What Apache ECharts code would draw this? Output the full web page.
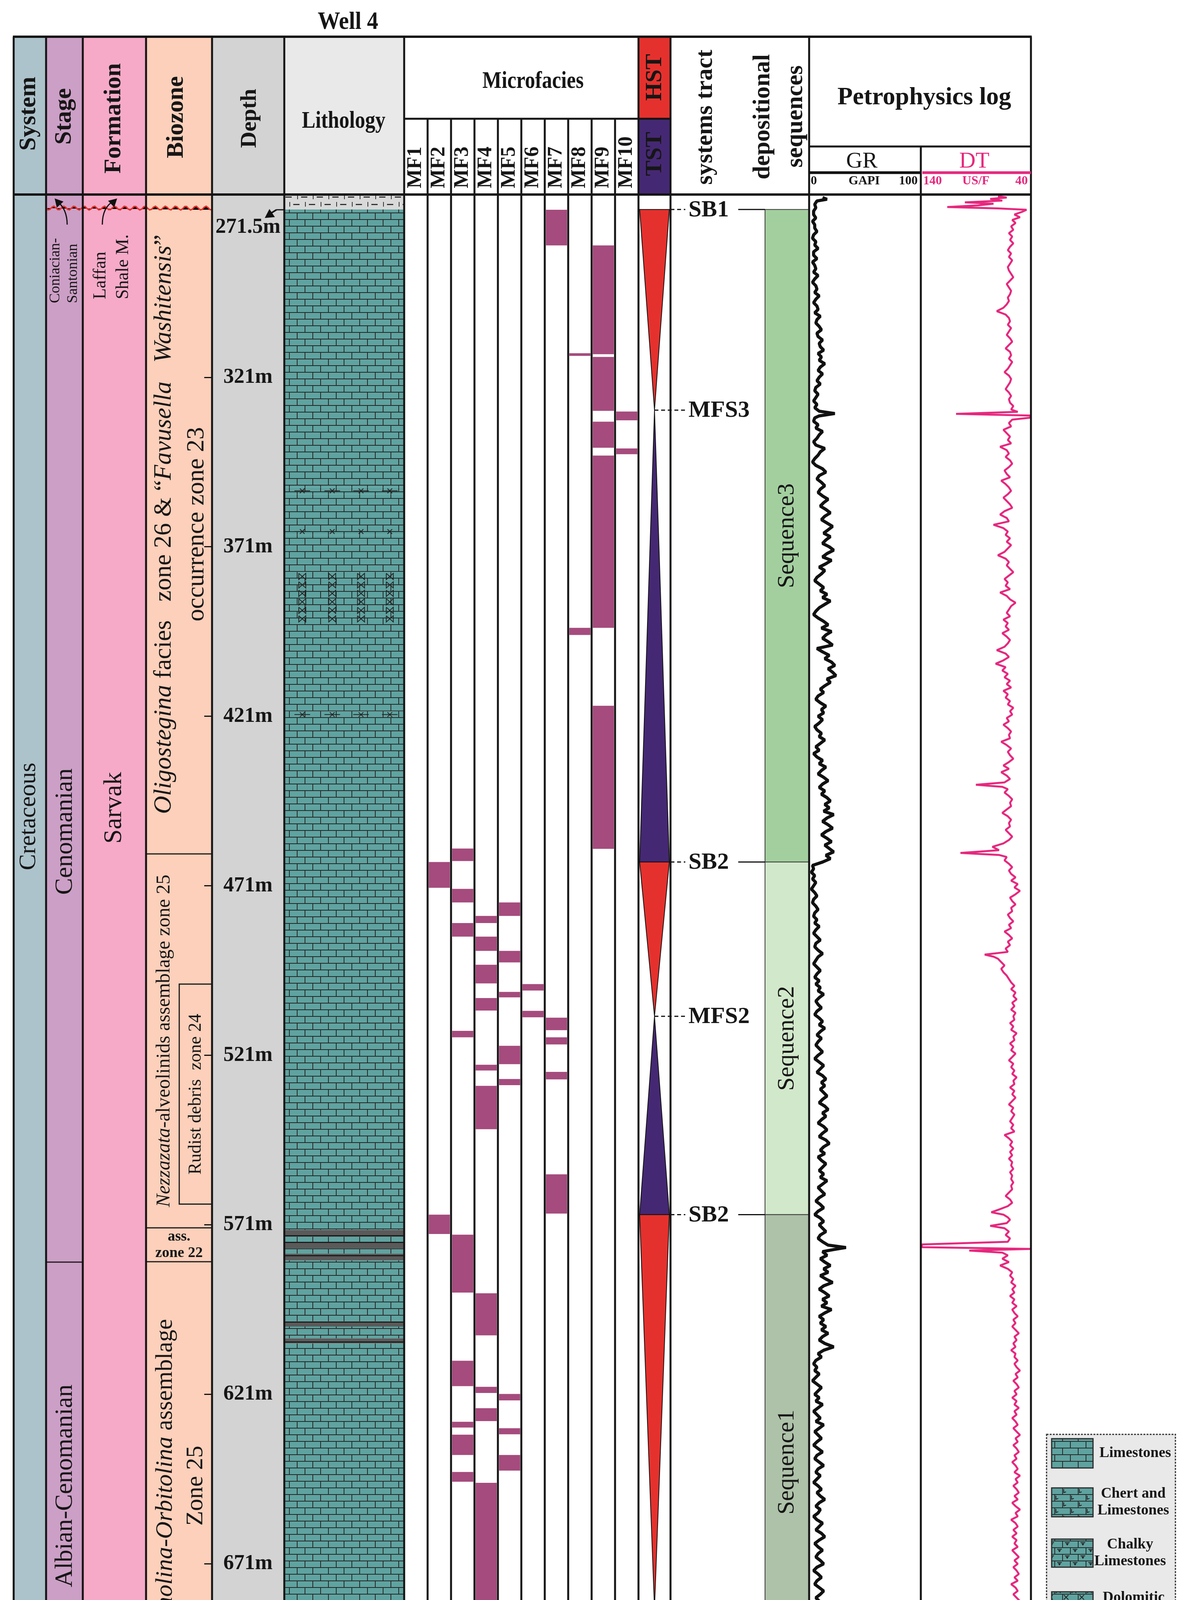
<!DOCTYPE html>
<html><head><meta charset="utf-8">
<script src="https://cdn.jsdelivr.net/npm/echarts@6/dist/echarts.min.js"></script>
<style>html,body{margin:0;padding:0;background:#fff}#c{width:3055px;height:4553px}</style>
</head><body><div id="c"></div>
<script>
// ---------------- DATA ----------------
const depthTicks = [271.5, 321, 371, 421, 471, 521, 571, 621, 671, 714];
const mfNames = ['MF1','MF2','MF3','MF4','MF5','MF6','MF7','MF8','MF9','MF10'];
// [microfacies column index (0 = MF1), top depth m, bottom depth m]
const mfIntervals = [
 [6,271.6,282.1],
 [8,282.1,314.2],[8,315.0,330.9],[8,334.1,341.8],[8,344.1,394.9],[8,417.9,460.1],
 [7,313.9,314.7],[7,394.9,397.0],
 [9,331.1,333.7],[9,342.0,343.7],
 [1,464.0,471.6],[1,568.0,573.7],[1,702.0,707.9],[1,710.3,714.0],
 [2,460.0,463.7],[2,471.9,475.9],[2,482.0,486.0],[2,513.8,515.7],[2,573.9,591.0],[2,611.1,618.6],[2,629.1,630.8],[2,632.9,638.9],[2,643.9,646.8],[2,696.0,697.2],[2,708.2,710.2],
 [3,479.9,482.0],[3,486.0,490.2],[3,494.3,499.8],[3,504.1,507.8],[3,523.8,525.5],[3,530.0,542.8],[3,591.2,603.6],[3,618.8,620.6],[3,625.1,628.9],[3,647.1,691.9],
 [4,475.9,479.9],[4,490.2,493.6],[4,502.3,503.9],[4,518.2,523.6],[4,528.0,529.8],[4,620.9,622.8],[4,631.0,632.8],[4,638.9,643.5],[4,692.0,696.0],[4,697.2,700.9],
 [5,500.0,501.9],[5,507.9,509.8],
 [6,509.9,513.6],[6,515.7,517.8],[6,525.9,528.1],[6,556.1,567.7],[6,684.0,685.7]
];
const surfaces = [['SB1',271.5],['MFS3',330.7],['SB2',464.0],['MFS2',509.5],['SB2',568.0],['MFS1',684.1],['SB2',714.0]];
const tracts = [['HST',271.5,330.7],['TST',330.7,464.0],['HST',464.0,509.5],['TST',509.5,568.0],['HST',568.0,684.1],['TST',684.1,714.0]];
const sequences = [['Sequence3',271.5,464.0],['Sequence2',464.0,568.0],['Sequence1',568.0,714.0]];
const lithology = [
 ['marl',267.1,271.5],['limestone',271.5,353.5],['chert',353.5,355.5],['limestone',355.5,365.5],['chert',365.5,367.5],
 ['limestone',367.5,378.5],['dolomitic',378.5,393.5],['limestone',393.5,419.5],['chert',419.5,421.5],['limestone',421.5,572.5],
 ['shale',572.5,574.5],['limestone',574.5,576],['shale',576,578],['limestone',578,579.5],['shale',579.5,581.5],
 ['limestone',581.5,599.5],['shale',599.5,601],['limestone',601,604.5],['shale',604.5,606],['limestone',606,714],['shale',714,720.5]
];
const stageIntervals = [['Coniacian-Santonian',267.1,271.1],['Cenomanian',271.1,582.0],['Albian-Cenomanian',582.0,714.0]];
const formationIntervals = [['Laffan Shale M.',267.1,271.1],['Sarvak',271.1,714.0]];
const biozoneIntervals = [
 ['{i|Oligostegina} facies   zone 26 & “{i|Favusella   Washitensis}”\noccurrence zone 23',267.1,461.6],
 ['{i|Nezzazata}-alveolinids assemblage zone 25',461.6,571.9],
 ['ass.\nzone 22',571.9,581.9],
 ['{i|Trocholina-Orbitolina} assemblage\nZone 25',581.9,714.0]
];
const subzoneIntervals = [['Rudist debris  zone 24',500.0,564.9]];
const legendItems = [['limestone',['Limestones']],['chert',['Chert and','Limestones']],['chalky',['Chalky','Limestones']],['dolomitic',['Dolomitic','Limestones']],['marl',['Marls']],['shale',['Shales']]];
// GR log [depth m, GAPI]
const grLog = [[268,12],[268.5,16],[269,7],[270,5],[271,6],[272,4],[273,4],[274,6],[275,3],[276,5],[277,5],[278,7],[279,4],[280,3],[281,6],[282,5],[283,8],[284,4],[285,4],[286,7],[287,3],[288,5],[289,6],[290,4],[291,8],[292,5],[293,3],[294,6],[295,7],[296,5],[297,9],[298,6],[299,4],[300,7],
[301,8],[302,5],[303,10],[304,7],[305,6],[306,9],[307,11],[308,7],[309,8],[310,12],[311,9],[312,10],[313,13],[314,8],[315,11],[316,9],[317,14],[318,10],[319,8],[320,12],[321,9],[322,7],[323,10],[324,6],[325,5],[326,8],[327,6],[328,4],[329,7],[330,5],[331,9],[331.7,23],[332.4,9],
[333,5],[334,4],[335,8],[336,6],[337,12],[338,9],[339,7],[340,4],[341,6],[342,14],[343,10],[344,8],[345,5],[346,3],[347,6],[348,12],[349,15],[350,9],[351,7],[352,11],[353,14],[354,10],[355,8],[356,12],[357,17],[358,13],[359,10],[360,15],[361,19],[362,14],[363,11],
[364,16],[365,21],[366,17],[367,13],[368,19],[369,15],[370,12],[371,18],[372,22],[373,16],[374,12],[375,20],[376,15],[377,9],[378,14],[379,11],[380,7],[381,5],[382,9],[383,13],[384,10],[385,16],[386,12],[387,19],[388,14],[389,9],[390,6],[391,4],[392,8],[393,13],[394,17],[395,11],[396,20],[397,15],[398,12],[399,17],[400,21],
[401,7],[402,12],[403,18],[404,14],[405,20],[406,23],[407,17],[408,21],[409,24],[410,16],[411,19],[412,14],[413,10],[414,13],[415,8],[416,6],[417,10],[418,15],[419,11],[420,13],[421,8],[422,12],[423,9],[424,5],[425,7],[426,11],[427,9],[428,14],[429,10],[430,6],
[431,9],[432,4],[433,7],[434,12],[435,9],[436,15],[437,11],[438,8],[439,13],[440,17],[441,12],[442,9],[443,14],[444,11],[445,16],[446,19],[447,14],[448,18],[449,13],[450,22],[451,16],[452,12],[453,17],[454,21],[455,15],[456,11],[457,16],[458,20],[459,14],[460,18],[461,22],[462,15],[463,19],[464,12],
[465,3],[466,4],[467,2],[468,5],[469,3],[470,6],[471,4],[472,2],[473,5],[474,7],[475,4],[476,3],[477,6],[478,8],[479,5],[480,4],[481,7],[482,5],[483,9],[484,6],[485,4],[486,7],[487,10],[488,6],[489,5],[490,8],[491,12],[492,8],[493,6],[494,4],[495,7],[496,10],[497,7],[498,5],[499,9],[500,6],
[501,10],[502,8],[503,13],[504,9],[505,6],[506,8],[507,11],[508,7],[509,5],[510,9],[511,12],[512,9],[513,14],[514,10],[515,7],[516,11],[517,8],[518,6],[519,9],[520,12],[521,8],[522,5],[523,9],[524,13],[525,10],[526,7],[527,12],[528,15],[529,11],[530,14],[531,10],
[532,13],[533,16],[534,12],[535,9],[536,14],[537,17],[538,12],[539,15],[540,11],[541,8],[542,13],[543,16],[544,12],[545,9],[546,15],[547,18],[548,13],[549,10],[550,14],[551,8],[552,11],[553,15],[554,12],[555,9],[556,13],[557,10],[558,16],[559,12],[560,8],[561,11],[562,14],[563,9],[564,6],[565,10],[566,13],[567,8],[568,5],[569,10],[570,13],[571,9],[572,12],[573,15],[574,10],[575,8],[576,12],[577,17],[577.7,33],[578.3,22],[578.9,12],
[580,16],[581,10],[582,14],[583,19],[584,13],[585,17],[586,10],[587,15],[588,21],[589,13],[590,9],[591,14],[592,18],[593,12],[594,16],[595,11],[596,20],[597,14],[598,9],[599,13],[600,10],[601,15],[602,11],[603,17],[604,12],[605,9],[606,14],[607,22],[608,13],[609,8],[610,11],[611,6],
[612,4],[613,7],[614,5],[615,9],[616,6],[617,3],[618,7],[619,11],[620,8],[621,5],[622,9],[623,6],[624,12],[625,8],[626,4],[627,7],[628,10],[629,6],[630,13],[631,9],[632,5],[633,8],[634,11],[635,7],[636,4],[637,8],[638,12],[639,7],[640,5],[641,9],[642,13],[643,8],[644,6],[645,10],[646,7],[647,4],[648,8],[649,11],[650,7],[651,10],[652,14],[653,9],[654,6],[655,10],[656,8],[657,4],[658,7],[659,12],[660,9],[661,6],[662,11],[663,14],[664,9],[665,5],[666,8],[667,12],[668,8],[669,6],[670,10],[671,13],[672,7],[673,4],[674,8],[675,11],[676,7],[677,5],[678,9],[679,13],[680,10],[681,6],[682,9],[683,12],[684,7],[685,4],[686,9],[687,13],[688,8],[689,5],[690,10],[691,7],[692,11],[693,6],[694,3],[695,7],[696,11],[697,8],[698,5],[699,9],[700,6],[701,10],[702,7],[703,4],[704,8],[705,6],[706,10],[707,5],[708,3],[709,7],[710,5],[711,9],[712,6],[713,4],[714,8],[715,12],[715.8,34],[716.4,22],[717,26],[717.8,14],[718.6,17],[719.4,12],[720.2,14]];
// DT log [depth m, us/ft]
const dtLog = [[267.6,70],[268.0,62],[268.4,77],[268.9,66],[269.4,100],[269.8,74],[270.3,88],[270.8,116],[271.2,70],[271.6,44],
[272.2,48],[273,55],[273.8,50],[274.6,57],[275.5,54],[276.5,58],[277.5,56],[278.5,60],[279.5,57],[280.5,59],[281.5,56],[282.5,59],[283.5,61],[284.5,58],[285.5,60],[286.5,57],[287.5,59],[288.5,61],[289.5,60],[290.5,58],[291.5,56],[292.5,59],[293.5,62],[294.5,60],[295.5,58],[296.5,59],[297.5,61],[298.5,60],[299.5,62],[300.5,65],[301.5,71],[302.5,63],[303.5,60],[304.5,59],[305.5,61],[306.5,58],[307.5,60],[308.5,62],[309.5,59],[310.5,57],[311.5,60],[312.5,63],[313.5,59],[314.5,58],[315.5,60],[316.5,57],[317.5,59],[318.5,61],[319.5,64],[320.5,60],[321.5,58],[322.5,59],[323.5,61],[324.5,63],[325.5,60],[326.5,58],[327.5,60],[328.5,59],[329.5,56],[330.5,58],[331.2,52],[331.8,108],[332.3,41],[332.9,40],
[333.5,57],[334.5,60],[335.5,58],[336.5,65],[337.5,62],[338.5,59],[339.5,61],[340.5,58],[341.5,68],[342.5,62],[343.5,60],[344.5,63],[345.5,59],[346.5,57],[347.5,60],[348.5,64],[349.5,62],[350.5,59],[351.5,67],[352.5,63],[353.5,60],[354.5,58],[355.5,61],[356.5,65],[357.5,62],[358.5,59],[359.5,57],[360.5,64],[361.5,68],[362.5,62],[363.5,60],[364.5,74],[365.5,65],[366.5,61],[367.5,63],[368.5,59],[369.5,62],[370.5,58],[371.5,61],[372.5,64],[373.5,70],[374.5,63],[375.5,60],[376.5,62],[377.5,59],[378.5,56],[379.5,60],[380.5,64],[381.5,61],[382.5,63],[383.5,59],[384.5,68],[385.5,62],[386.5,59],[387.5,54],[388.5,58],[389.5,60],[390.5,62],[391.5,59],[392.5,65],[393.5,61],[394.5,63],[395.5,60],[396.5,66],[397.5,62],[398.5,59],[399.5,61],[400.5,64],[401.5,71],[402.5,63],[403.5,60],[404.5,65],[405.5,72],[406.5,63],[407.5,66],[408.5,61],[409.5,64],[410.5,59],[411.5,62],[412.5,58],[413.5,65],[414.5,61],[415.5,63],[416.5,59],[417.5,61],[418.5,56],[419.5,59],[420.5,57],[421.5,62],[422.5,60],[423.5,65],[424.5,61],[425.5,58],[426.5,60],[427.5,59],[428.5,67],[429.5,62],[430.5,58],[431.5,61],[432.5,59],[433.5,56],[434.5,60],[435.5,65],[436.5,60],[437.5,67],[438.5,62],[439.5,59],[440.5,64],[441.2,90],[441.8,66],[442.5,61],[443.5,64],[444.5,60],[445.5,57],[446.5,59],[447.5,58],[448.5,62],[449.5,66],[450.5,61],[451.5,58],[452.5,60],[453.5,59],[454.5,63],[455.5,60],[456.5,57],[457.5,60],[458.5,65],[459.5,75],[460.5,69],[461.3,104],[461.9,69],[462.5,62],[463.5,64],
[464.5,60],[465.5,57],[466.5,60],[467.5,58],[468.5,54],[469.5,58],[470.5,52],[471.5,55],[472.5,50],[473.5,54],[474.5,59],[475.5,57],[476.5,54],[477.5,58],[478.5,57],[479.5,61],[480.5,59],[481.5,56],[482.5,60],[483.5,58],[484.5,64],[485.5,60],[486.5,57],[487.5,61],[488.5,59],[489.5,63],[490.5,61],[491.3,82],[491.9,74],[492.5,70],[493.5,67],[494.5,64],[495.5,67],[496.5,65],[497.5,62],[498.5,60],[499.5,58],[500.5,55],[501.5,58],[502.5,54],[503.5,56],[504.5,53],[505.5,57],[506.5,55],[507.5,58],[508.5,54],[509.5,56],[510.5,55],[511.5,59],[512.5,56],[513.5,58],[514.5,53],[515.5,56],[516.5,55],[517.5,59],[518.5,56],[519.5,58],[520.5,54],[521.5,57],[522.5,60],[523.5,56],[524.5,58],[525.5,55],[526.5,57],[527.5,53],[528.5,56],[529.5,55],[530.5,59],[531.5,55],[532.5,57],[533.5,54],[534.5,57],[535.5,60],[536.5,56],[537.5,58],[538.5,55],[539.5,57],[540.5,59],[541.5,56],[542.5,58],[543.5,55],[544.5,64],[545.5,60],[546.5,57],[547.5,59],[548.5,56],[549.5,59],[550.5,57],[551.5,60],[552.5,57],[553.5,58],[554.5,56],[555.5,59],[556.5,57],[557.5,58],[558.5,56],[559.5,58],[560.5,57],[561.5,60],[562.5,63],[563.5,59],[564.5,57],[565.5,61],[566.5,69],[567.3,76],[568,65],[568.8,61],[569.5,59],[570.5,62],[571.3,77],[572,64],[573,60],[574,63],[575,59],[576,61],[576.8,139],[577.6,139],[578.1,40],[578.6,96],[579.2,66],
[580,61],[581,66],[582,60],[583,68],[584,61],[585,57],[586,59],[587,56],[588,58],[589,54],[590,57],[591,55],[592,59],[593,55],[594,57],[595,53],[596,57],[597,55],[598,52],[599,56],[600,54],[601,57],[602,54],[603,51],[604,55],[605,53],[606,56],[607,54],[608,58],[609,54],[610,55],[611,52],[612,55],[613,53],[614,50],[615,54],[616,52],[617,56],[618,53],[619,51],[620,55],[621,53],[622,57],[623,53],[624,55],[625,51],[626,55],[627,53],[628,57],[629,54],[630,52],[631,56],[632,53],[633,50],[634,54],[635,52],[636,56],[637,53],[638,51],[639,55],[640,53],[641,57],[642,54],[643,52],[644,55],[645,50],[646,54],[647,52],[648,56],[649,53],[650,51],[651,55],[652,52],[653,57],[654,54],[655,50],[656,54],[657,52],[658,58],[659,54],[660,52],[661,56],[662,53],[663,57],[664,53],[665,55],[666,52],[667,57],[668,54],[669,51],[670,55],[671,52],[672,56],[673,53],[674,51],[675,55],[676,52],[677,58],[678,54],[679,52],[680,56],[681,53],[682,50],[683,55],[683.8,79],[684.5,58],[685.5,54],[686.5,56],[687.5,52],[688.5,55],[689.5,51],[690.5,56],[691.5,53],[692.5,50],[693.5,54],[694.5,51],[695.5,55],[696.5,52],[697.5,57],[698.5,53],[699.5,50],[700.5,54],[701.5,51],[702.5,56],[703.5,52],[704.5,49],[705.5,53],[706.5,51],[707.5,55],[708.5,52],[709.5,57],[710.5,53],[711.5,50],[712.5,54],[713.3,48],[713.9,139],[714.6,139],[715.2,60],[715.8,42],[716.5,70],[717.5,55],[718.5,60],[719.5,56],[720.3,58]];

// ---------------- LAYOUT & STYLE ----------------
const L = {top:94, mid:304, hdrBot:498, bot:4433, petroSplit:375, scaleY:442,
  sys:35, stage:118, form:212, bio:374, depth:543, lith:728, mf:1035, st:1635, lab:1717, seq:1959, gr:2072, dt:2358, end:2640};
const D0 = 267.1, D1 = 720.5;
const FONT = '"Liberation Serif","Times New Roman",serif';
const INK = '#161616';
const C = {sys:'#adc3cb', stage:'#cc9fc6', form:'#f6aac8', bio:'#fcd0ba', depth:'#d3d3d3', lithHdr:'#e9e9e9',
  hst:'#e5312d', tst:'#452873', mf:'#a54b7d', pink:'#e6287e', teal:'#5fa3a0', seq:['#a3cf9f','#d2e8ca','#aec1a9']};

function mkCanvas(w,h,draw){const c=document.createElement('canvas');c.width=w;c.height=h;draw(c.getContext('2d'));return c;}
function bricks(ctx){ctx.fillStyle=C.teal;ctx.fillRect(0,0,40,34);ctx.fillStyle='#262626';ctx.fillRect(0,0,40,2);ctx.fillRect(0,17,40,2);ctx.fillRect(0,0,2,17);ctx.fillRect(20,17,2,17);}
const img = {
  limestone: mkCanvas(40,34,bricks),
  chert: mkCanvas(40,34,ctx=>{bricks(ctx);ctx.strokeStyle='#222';ctx.lineWidth=2;ctx.beginPath();ctx.moveTo(4,4);ctx.lineTo(4,13);ctx.lineTo(10,11);ctx.moveTo(24,21);ctx.lineTo(24,30);ctx.lineTo(30,28);ctx.stroke();}),
  chalky: mkCanvas(40,34,ctx=>{bricks(ctx);ctx.fillStyle='#222';ctx.fillRect(7,4,12,2);ctx.beginPath();ctx.moveTo(9,7);ctx.lineTo(17,7);ctx.lineTo(13,13);ctx.fill();ctx.fillRect(27,21,12,2);ctx.beginPath();ctx.moveTo(29,24);ctx.lineTo(37,24);ctx.lineTo(33,30);ctx.fill();}),
  dolomitic: mkCanvas(40,34,ctx=>{bricks(ctx);ctx.strokeStyle='#222';ctx.lineWidth=2;ctx.beginPath();ctx.moveTo(4,3);ctx.lineTo(16,15);ctx.moveTo(4,15);ctx.lineTo(16,3);ctx.moveTo(24,20);ctx.lineTo(36,32);ctx.moveTo(24,32);ctx.lineTo(36,20);ctx.stroke();}),
  marl: mkCanvas(40,38,ctx=>{ctx.fillStyle='#d9d9d9';ctx.fillRect(0,0,40,38);ctx.fillStyle='#333';ctx.fillRect(1,4,2,12);ctx.fillRect(11,9,16,3);ctx.fillRect(21,23,2,12);ctx.fillRect(31,28,9,3);ctx.fillRect(0,28,7,3);}),
  shale: mkCanvas(20,17,ctx=>{ctx.fillStyle='#5a5a5a';ctx.fillRect(0,0,20,17);ctx.fillStyle='#1c1c1c';ctx.fillRect(0,0,20,3);})
};
const pat = {}; Object.keys(img).forEach(k=>pat[k]={image:img[k],repeat:'repeat'});
const mctx = document.createElement('canvas').getContext('2d');
function measure(t,font){mctx.font=font;return mctx.measureText(t).width;}

// ---------------- RENDERERS ----------------
function yOf(api,d){return api.coord([0,d])[1];}
function renderLith(params, api){
  const i=api.value(2), type=lithology[i][0], cs=params.coordSys;
  const t=yOf(api,api.value(0)), b=yOf(api,api.value(1));
  const base = type==='marl'?pat.marl:(type==='shale'?pat.shale:pat.limestone);
  const ch=[{type:'rect',shape:{x:cs.x,y:t,width:cs.width,height:b-t},style:{fill:base}}];
  if(type==='chert'||type==='dolomitic'){
    const rows=Math.max(1,Math.round((b-t)/22));
    for(let r=0;r<rows;r++){const yy=t+(r+0.5)*(b-t)/rows;
      [0.15,0.4,0.64,0.88].forEach(f=>{const xx=cs.x+f*cs.width;
        if(type==='chert'){ch.push({type:'polyline',shape:{points:[[xx-20,yy],[xx+20,yy]]},style:{stroke:'#222',lineWidth:2}});
          ch.push({type:'polyline',shape:{points:[[xx-6,yy-6],[xx+6,yy+6]]},style:{stroke:'#222',lineWidth:2}});
          ch.push({type:'polyline',shape:{points:[[xx-6,yy+6],[xx+6,yy-6]]},style:{stroke:'#222',lineWidth:2}});}
        else {ch.push({type:'polyline',shape:{points:[[xx-9,yy-8],[xx+9,yy+8],[xx+9,yy-8],[xx-9,yy+8],[xx-9,yy-8]]},style:{stroke:'#222',lineWidth:2,fill:null}});}
      });}
  }
  return {type:'group',children:ch};
}
function renderMF(params, api){
  const i=api.value(0);
  const p1=api.coord([i,api.value(1)]), p2=api.coord([i+1,api.value(2)]);
  return {type:'rect',shape:{x:p1[0]+3,y:p1[1],width:p2[0]-p1[0]-6,height:Math.max(p2[1]-p1[1],4)},style:{fill:C.mf}};
}
function renderTract(params, api){
  const i=api.value(2), kind=tracts[i][0], cs=params.coordSys;
  const x0=cs.x+3, x1=cs.x+cs.width-3, xc=cs.x+cs.width/2;
  const t=yOf(api,api.value(0)), b=yOf(api,api.value(1));
  const pts = kind==='HST'?[[x0,t],[x1,t],[xc,b]]:[[xc,t],[x1,b],[x0,b]];
  return {type:'polygon',shape:{points:pts},style:{fill:kind==='HST'?C.hst:C.tst,stroke:'#111',lineWidth:2}};
}
function renderSurface(params, api){
  const i=api.value(1), s=surfaces[i], y=yOf(api,api.value(0));
  const isMFS=s[0].indexOf('MFS')===0;
  const x0=isMFS?(L.st+L.lab)/2:L.lab, tx=1763;
  const font='bold 60px '+FONT;
  const ch=[{type:'line',shape:{x1:x0,y1:y,x2:tx-8,y2:y},style:{stroke:'#111',lineWidth:3,lineDash:[10,7]}},
    {type:'text',x:tx,y:y+2,style:{text:s[0],font:font,fill:INK,align:'left',verticalAlign:'middle'}}];
  if(!isMFS){const w=measure(s[0],font);ch.push({type:'line',shape:{x1:tx+w+24,y1:y,x2:L.seq,y2:y},style:{stroke:'#111',lineWidth:3}});}
  return {type:'group',children:ch};
}
function renderSeq(params, api){
  const i=api.value(2), cs=params.coordSys;
  const t=yOf(api,api.value(0)), b=yOf(api,api.value(1));
  return {type:'group',children:[
    {type:'rect',shape:{x:cs.x,y:t,width:cs.width,height:b-t},style:{fill:C.seq[i],stroke:'#3a3a3a',lineWidth:2}},
    {type:'text',x:cs.x+cs.width/2,y:(t+b)/2,rotation:Math.PI/2,style:{text:sequences[i][0],font:'62px '+FONT,fill:INK,align:'center',verticalAlign:'middle'}}
  ]};
}
const stratRows = [];
stageIntervals.forEach((r,i)=>stratRows.push([r[1],r[2],0,i]));
formationIntervals.forEach((r,i)=>stratRows.push([r[1],r[2],1,i]));
biozoneIntervals.forEach((r,i)=>stratRows.push([r[1],r[2],2,i]));
subzoneIntervals.forEach((r,i)=>stratRows.push([r[1],r[2],3,i]));
const labelAnchor = {'Cenomanian':455, 'Sarvak':448};
function vt(x,y,text,size,extra){return Object.assign({type:'text',x:x,y:y,rotation:Math.PI/2,style:{text:text,font:size+'px '+FONT,fill:INK,align:'center',verticalAlign:'middle'}},extra||{});}
function renderStrat(params, api){
  const td=api.value(0), bd=api.value(1), kind=api.value(2), i=api.value(3);
  const t=yOf(api,td), b=yOf(api,bd), ch=[];
  const hl=(x1,x2,y,w)=>ch.push({type:'line',shape:{x1:x1,y1:y,x2:x2,y2:y},style:{stroke:'#1a1a1a',lineWidth:w||3}});
  if(kind===0){
    const name=stageIntervals[i][0];
    if(i===0){
      const pts=[]; for(let x=L.stage;x<=L.depth;x+=5){pts.push([x,b+5*Math.sin((x-L.stage)/13*Math.PI)]);}
      ch.push({type:'polyline',shape:{points:pts},style:{stroke:'#e8302a',lineWidth:3.5}});
    } else {
      hl(L.stage,L.form,b);
      const yc = labelAnchor[name]!==undefined?yOf(api,labelAnchor[name]):(t+b)/2;
      ch.push(vt((L.stage+L.form)/2+2,yc,name,64));
    }
  } else if(kind===1){
    const name=formationIntervals[i][0];
    if(i>0){hl(L.form,L.bio,b);ch.push(vt((L.form+L.bio)/2,yOf(api,labelAnchor[name]),name,66));}
  } else if(kind===2){
    hl(L.bio,L.depth,b);
    const txt=biozoneIntervals[i][0];
    if(i===2){
      ch.push({type:'text',x:(L.bio+L.depth)/2,y:(t+b)/2,style:{text:txt,font:'bold 38px '+FONT,fill:INK,align:'center',verticalAlign:'middle',lineHeight:42}});
    } else {
      const size=i===1?50:(i===0?64:62), lh=i===0?84:78;
      const x=i===1?421:(L.bio+L.depth)/2+4;
      ch.push(vt(x,(t+b)/2,txt,size,{style:{text:txt,font:size+'px '+FONT,fill:INK,align:'center',verticalAlign:'middle',lineHeight:lh,
        rich:{i:{fontStyle:'italic',fontSize:size,fontFamily:FONT,lineHeight:lh,fill:INK}}}}));
    }
  } else {
    ch.push({type:'rect',shape:{x:459,y:t,width:L.depth-459,height:b-t},style:{fill:null,stroke:'#1a1a1a',lineWidth:3}});
    ch.push(vt(502,(t+b)/2,subzoneIntervals[i][0],46));
  }
  return {type:'group',children:ch};
}

// ---------------- GRAPHIC (frame, headers, legend) ----------------
const g=[];
function R(x,y,w,h,fill,z,extra){g.push(Object.assign({type:'rect',silent:true,z:z||0,shape:{x:x,y:y,width:w,height:h},style:{fill:fill}},extra||{}));}
function Ln(x1,y1,x2,y2,w,col,z,dash){g.push({type:'line',silent:true,z:z||10,shape:{x1:x1,y1:y1,x2:x2,y2:y2},style:{stroke:col||'#141414',lineWidth:w||5,lineDash:dash||null}});}
function T(x,y,text,font,opt){opt=opt||{};g.push({type:'text',silent:true,z:12,x:x,y:y,rotation:opt.rot||0,scaleX:opt.sx||1,
  style:{text:text,font:font,fill:opt.fill||INK,align:opt.align||'center',verticalAlign:opt.va||'middle'}});}
function head(tx,ty,ang,s){const a1=ang+Math.PI*0.84,a2=ang-Math.PI*0.84;
  g.push({type:'polygon',silent:true,z:12,shape:{points:[[tx,ty],[tx+s*Math.cos(a1),ty+s*Math.sin(a1)],[tx+s*Math.cos(a2),ty+s*Math.sin(a2)]]},style:{fill:'#111'}});}
function curve(x1,y1,cx,cy,x2,y2){g.push({type:'bezierCurve',silent:true,z:12,shape:{x1:x1,y1:y1,cpx1:cx,cpy1:cy,x2:x2,y2:y2},style:{stroke:'#111',lineWidth:3,fill:null}});}

R(L.sys,L.top,L.stage-L.sys,L.bot-L.top,C.sys);
R(L.stage,L.top,L.form-L.stage,L.bot-L.top,C.stage);
R(L.form,L.top,L.bio-L.form,L.bot-L.top,C.form);
R(L.bio,L.top,L.depth-L.bio,L.bot-L.top,C.bio);
R(L.depth,L.top,L.lith-L.depth,L.bot-L.top,C.depth);
R(L.lith,L.top,L.mf-L.lith,L.hdrBot-L.top,C.lithHdr);
R(L.st,L.top,L.lab-L.st,L.mid-L.top,C.hst);
R(L.st,L.mid,L.lab-L.st,L.hdrBot-L.mid,C.tst);
Ln(L.sys-2,L.top,L.end+2,L.top,6);
Ln(L.sys,L.hdrBot,L.end,L.hdrBot,6);
Ln(L.sys-2,L.bot,L.end+2,L.bot,5);
[L.sys,L.stage,L.form,L.bio,L.depth,L.lith,L.mf,L.st,L.lab,L.gr,L.end].forEach(x=>Ln(x,L.top,x,L.bot,5));
for(let k=1;k<10;k++){const x=L.mf+k*(L.st-L.mf)/10;Ln(x,L.mid,x,L.bot,5);}
Ln(L.mf,L.mid,L.lab,L.mid,5);
Ln(L.gr,L.petroSplit,L.end,L.petroSplit,5);
Ln(L.dt,L.petroSplit,L.dt,L.bot,5);
Ln(L.gr,L.scaleY,L.dt,L.scaleY,7,'#111');
Ln(L.dt+4,L.scaleY,L.end,L.scaleY,7,C.pink);
T(891,57,'Well 4','bold 64px '+FONT,{sx:0.9});
T(74,291,'System','bold 62px '+FONT,{rot:Math.PI/2});
T(165,298,'Stage','bold 62px '+FONT,{rot:Math.PI/2});
T(292,303,'Formation','bold 62px '+FONT,{rot:Math.PI/2});
T(452,300,'Biozone','bold 62px '+FONT,{rot:Math.PI/2});
T(640,303,'Depth','bold 58px '+FONT,{rot:Math.PI/2});
T(880,311,'Lithology','bold 62px '+FONT,{sx:0.84});
T(1365,209,'Microfacies','bold 62px '+FONT,{sx:0.84});
mfNames.forEach((n,k)=>T(L.mf+(k+0.5)*(L.st-L.mf)/10,482,n,'bold 52px '+FONT,{rot:Math.PI/2,align:'left'}));
T(1677,198,'HST','bold 60px '+FONT,{rot:Math.PI/2});
T(1677,394,'TST','bold 60px '+FONT,{rot:Math.PI/2});
T(1807,300,'systems tract','bold 62px '+FONT,{rot:Math.PI/2});
T(1954,299,'depositional','bold 62px '+FONT,{rot:Math.PI/2});
T(2038,298,'sequences','bold 62px '+FONT,{rot:Math.PI/2});
T(2367,250,'Petrophysics log','bold 64px '+FONT);
T(2207,414,'GR','58px '+FONT);
T(2495,414,'DT','58px '+FONT,{fill:C.pink});
T(2076,464,'0','bold 32px '+FONT,{align:'left'});
T(2213,464,'GAPI','bold 32px '+FONT);
T(2350,464,'100','bold 32px '+FONT,{align:'right'});
T(2364,464,'140','bold 32px '+FONT,{align:'left',fill:C.pink});
T(2499,464,'US/F','bold 32px '+FONT,{fill:C.pink});
T(2632,464,'40','bold 32px '+FONT,{align:'right',fill:C.pink});
T(74,2090,'Cretaceous','62px '+FONT,{rot:Math.PI/2});
T(142,776,'Coniacian-','38px '+FONT,{rot:Math.PI/2,align:'left'});
T(187,776,'Santonian','38px '+FONT,{rot:Math.PI/2,align:'left'});
T(258,766,'Laffan','46px '+FONT,{rot:Math.PI/2,align:'left'});
T(316,766,'Shale M.','46px '+FONT,{rot:Math.PI/2,align:'left'});
T(438,4510,'Kazhdumi','bold 50px '+FONT);
curve(172,575,172,535,146,515); head(140,508,-2.3,24);
curve(262,575,262,530,292,514); head(300,508,-0.75,24);
curve(281,4399,300,4420,330,4444); head(338,4451,0.7,24);
Ln(L.lith,537,708,537,3,'#111',12);
g.push({type:'polyline',silent:true,z:12,shape:{points:[[708,537],[684,552]]},style:{stroke:'#111',lineWidth:4}});
head(678,558,2.55,26);
R(2680,3672,330,736,'#e9e9e9',12,{style:{fill:'#e9e9e9',stroke:'#333',lineWidth:3,lineDash:[5,3]}});
const legY=[[3683,75],[3809,74],[3940,72],[4075,73],[4205,68],[4327,60]];
const legTextX=[2907,2902,2894,2903,2871,2874];
legendItems.forEach((it,k)=>{
  R(2693,legY[k][0],106,legY[k][1],pat[it[0]],13,{style:{fill:pat[it[0]],stroke:'#2a2a2a',lineWidth:3}});
  const yc=legY[k][0]+legY[k][1]/2, lines=it[1];
  lines.forEach((s,j)=>{const yy=lines.length===1?yc:yc+(j-0.5)*43;g.push({type:'text',silent:true,z:14,x:legTextX[k],y:yy,style:{text:s,font:'bold 38px '+FONT,fill:INK,align:'center',verticalAlign:'middle'}});});
});

// ---------------- CHART ----------------
const cols=[[L.sys,L.depth],[L.depth,L.lith],[L.lith,L.mf],[L.mf,L.st],[L.st,L.lab],[L.st,L.gr],[L.seq,L.gr],[L.gr,L.dt],[L.dt,L.end]];
const grids=cols.map(c=>({left:c[0],width:c[1]-c[0],top:L.hdrBot,height:L.bot-L.hdrBot,show:false,containLabel:false}));
const xRanges=[[0,1],[0,1],[0,1],[0,10],[0,1],[0,1],[0,1],[0,100],[40,140]];
const xAxes=xRanges.map((r,i)=>({type:'value',gridIndex:i,min:r[0],max:r[1],show:false,inverse:i===8}));
const yAxes=cols.map((c,i)=>({type:'value',gridIndex:i,min:D0,max:D1,inverse:true,show:i===1,position:'right',z:20,
  axisLine:{show:false},splitLine:{show:false},
  axisTick:{show:i===1,inside:true,length:20,customValues:depthTicks.filter(v=>v!==271.5),lineStyle:{color:'#111',width:3}},
  axisLabel:{show:i===1,inside:true,customValues:depthTicks,margin:93,align:'center',fontFamily:FONT,fontWeight:'bold',fontSize:54,color:INK,
    formatter:v=>v===271.5?'{low|271.5m}':v+'m',
    rich:{low:{padding:[92,0,0,0],fontFamily:FONT,fontWeight:'bold',fontSize:54,color:INK}}}}));
const chart=echarts.init(document.getElementById('c'),null,{renderer:'canvas',width:3055,height:4553});
chart.setOption({
  animation:false, backgroundColor:'#ffffff',
  grid:grids, xAxis:xAxes, yAxis:yAxes, graphic:{elements:g},
  series:[
    {type:'custom',xAxisIndex:0,yAxisIndex:0,renderItem:renderStrat,data:stratRows,silent:true,z:3},
    {type:'custom',xAxisIndex:2,yAxisIndex:2,renderItem:renderLith,data:lithology.map((r,i)=>[r[1],r[2],i]),silent:true,z:3},
    {type:'custom',xAxisIndex:3,yAxisIndex:3,renderItem:renderMF,data:mfIntervals,silent:true,z:3},
    {type:'custom',xAxisIndex:4,yAxisIndex:4,renderItem:renderTract,data:tracts.map((r,i)=>[r[1],r[2],i]),silent:true,z:3},
    {type:'custom',xAxisIndex:6,yAxisIndex:6,renderItem:renderSeq,data:sequences.map((r,i)=>[r[1],r[2],i]),silent:true,z:3},
    {type:'custom',xAxisIndex:5,yAxisIndex:5,renderItem:renderSurface,data:surfaces.map((r,i)=>[r[1],i]),silent:true,z:4},
    {type:'line',xAxisIndex:7,yAxisIndex:7,data:grLog.map(p=>[p[1],p[0]]),showSymbol:false,symbol:'none',lineStyle:{color:'#111',width:8},silent:true,z:5},
    {type:'line',xAxisIndex:8,yAxisIndex:8,data:dtLog.map(p=>[p[1],p[0]]),showSymbol:false,symbol:'none',lineStyle:{color:C.pink,width:5},silent:true,z:5}
  ]
});
</script></body></html>
